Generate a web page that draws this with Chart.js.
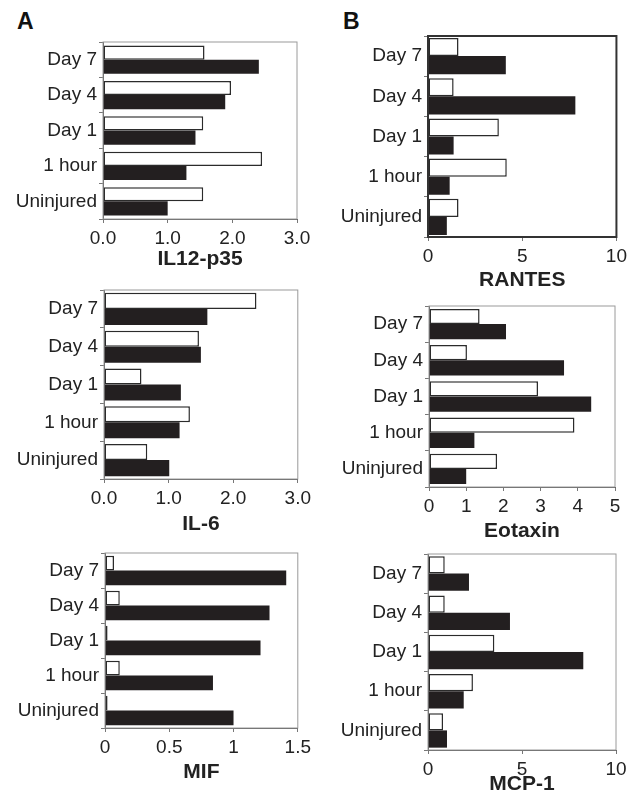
<!DOCTYPE html>
<html>
<head>
<meta charset="utf-8">
<script src="https://cdn.jsdelivr.net/npm/chart.js@4/dist/chart.umd.min.js"></script>
<style>
  html, body { margin: 0; padding: 0; background: #fff; overflow: hidden; }
  body { width: 631px; height: 804px; position: relative; font-family: "Liberation Sans", Arial, sans-serif; }
  .panel-letter { position: absolute; font-weight: bold; font-size: 23px; line-height: 1; color: #111; }
  canvas { position: absolute; }
</style>
</head>
<body>
<div class="panel-letter" style="left:17px; top:10px;">A</div>
<div class="panel-letter" style="left:343px; top:10px;">B</div>
<canvas id="il12"></canvas>
<canvas id="rantes"></canvas>
<canvas id="il6"></canvas>
<canvas id="eotaxin"></canvas>
<canvas id="mif"></canvas>
<canvas id="mcp1"></canvas>
<script>
// CATEGORIES (top to bottom) //
const categories = ['Day 7', 'Day 4', 'Day 1', '1 hour', 'Uninjured'];

// SERIES VALUES : open bars / filled bars //
const il12Open = [1.57, 1.98, 1.55, 2.46, 1.55];
const il12Filled = [2.41, 1.89, 1.43, 1.29, 1.0];

const rantesOpen = [1.62, 1.36, 3.76, 4.18, 1.62];
const rantesFilled = [4.13, 7.82, 1.36, 1.15, 1.0];

const il6Open = [2.36, 1.47, 0.58, 1.33, 0.67];
const il6Filled = [1.60, 1.50, 1.19, 1.17, 1.01];

const eotaxinOpen = [1.36, 1.02, 2.93, 3.91, 1.83];
const eotaxinFilled = [2.07, 3.63, 4.36, 1.22, 1.0];

const mifOpen = [0.07, 0.115, 0.02, 0.115, 0.02];
const mifFilled = [1.41, 1.28, 1.21, 0.84, 1.0];

const mcp1Open = [0.89, 0.89, 3.53, 2.39, 0.80];
const mcp1Filled = [2.18, 4.36, 8.26, 1.90, 1.01];

// TICK LABELS //
const ticksOneDecimal = [0, 1, 2, 3];
const ticksRantes = [0, 5, 10];
const ticksEotaxin = [0, 1, 2, 3, 4, 5];
const ticksMif = [0, 0.5, 1, 1.5];
const ticksMcp1 = [0, 5, 10];

const FONT = '"Liberation Sans", Arial, sans-serif';

// FRAME AROUND PLOT AREA //
const frameBox = {
  id: 'frameBox',
  afterDatasetsDraw(chart, args, opts) {
    const {ctx, chartArea: a} = chart;
    ctx.save();
    ctx.strokeStyle = opts.color;
    ctx.lineWidth = opts.width;
    ctx.strokeRect(a.left, a.top, a.right - a.left, a.bottom - a.top);
    ctx.restore();
  }
};

/**
 *
 * @param {{id:string, open:number[], filled:number[], title:string, max:number, tickValues:number[], decimals:number,
 *          box:{left:number, top:number, width:number}, plot:{l:number, t:number, r:number, b:number},
 *          titleGap:number, catPct:number, frameColor:string, frameWidth:number}} p
 */
function makePanel(p) {
  const canvas = document.getElementById(p.id);
  const axisHeight = 60;
  const height = p.plot.b + axisHeight - p.box.top;
  canvas.width = p.box.width;
  canvas.height = height;
  canvas.style.left = p.box.left + 'px';
  canvas.style.top = p.box.top + 'px';
  canvas.style.width = p.box.width + 'px';
  canvas.style.height = height + 'px';

  const titleSize = 21;
  const titlePadBottom = Math.max(0, axisHeight - p.titleGap - titleSize * 1.2 / 2);

  return new Chart(canvas, {
    type: 'bar',
    data: {
      labels: categories,
      datasets: [{
        data: p.open,
        backgroundColor: '#ffffff',
        borderColor: '#2b2b2b',
        borderWidth: 1.5,
        borderSkipped: false
      }, {
        data: p.filled,
        backgroundColor: '#231f20',
        borderWidth: 0
      }]
    },
    options: {
      indexAxis: 'y',
      responsive: false,
      devicePixelRatio: 1,
      animation: false,
      layout: {
        padding: {
          top: p.plot.t - p.box.top,
          right: p.box.left + p.box.width - p.plot.r,
          left: 0,
          bottom: 0
        }
      },
      datasets: {bar: {categoryPercentage: p.catPct, barPercentage: 1.0}},
      plugins: {
        legend: {display: false},
        tooltip: {enabled: false},
        frameBox: {color: p.frameColor, width: p.frameWidth}
      },
      scales: {
        x: {
          min: 0,
          max: p.max,
          afterFit: (scale) => { scale.height = axisHeight; },
          afterBuildTicks: (scale) => { scale.ticks = p.tickValues.map(v => ({value: v})); },
          grid: {drawOnChartArea: false, drawTicks: true, tickLength: 4, color: '#777'},
          border: {display: true, color: '#555', width: 1},
          ticks: {
            color: '#222',
            padding: 4,
            maxRotation: 0,
            font: {family: FONT, size: 19},
            callback: (v) => p.decimals ? Number(v).toFixed(p.decimals) : String(v)
          },
          title: {
            display: true,
            text: p.title,
            color: '#222',
            font: {family: FONT, size: titleSize, weight: 'bold'},
            padding: {top: 0, bottom: titlePadBottom}
          }
        },
        y: {
          afterFit: (scale) => { scale.width = p.plot.l - p.box.left; },
          grid: {drawOnChartArea: false, drawTicks: true, tickLength: 4, offset: true, color: '#777'},
          border: {display: true, color: '#555', width: 1},
          ticks: {color: '#222', padding: 2, font: {family: FONT, size: 19}}
        }
      }
    },
    plugins: [frameBox]
  });
}

makePanel({
  id: 'il12', open: il12Open, filled: il12Filled, title: 'IL12-p35', max: 3, tickValues: ticksOneDecimal, decimals: 1,
  box: {left: 0, top: 0, width: 315}, plot: {l: 103, t: 42, r: 297, b: 219},
  titleGap: 40, catPct: 0.8, frameColor: '#9a9a9a', frameWidth: 1
});

makePanel({
  id: 'rantes', open: rantesOpen, filled: rantesFilled, title: 'RANTES', max: 10, tickValues: ticksRantes, decimals: 0,
  box: {left: 316, top: 0, width: 315}, plot: {l: 428, t: 36, r: 619, b: 237},
  titleGap: 43, catPct: 0.9, frameColor: '#333333', frameWidth: 2
});

makePanel({
  id: 'il6', open: il6Open, filled: il6Filled, title: 'IL-6', max: 3, tickValues: ticksOneDecimal, decimals: 1,
  box: {left: 0, top: 270, width: 315}, plot: {l: 104, t: 290, r: 306, b: 479},
  titleGap: 45, catPct: 0.85, frameColor: '#9a9a9a', frameWidth: 1
});

makePanel({
  id: 'eotaxin', open: eotaxinOpen, filled: eotaxinFilled, title: 'Eotaxin', max: 5, tickValues: ticksEotaxin, decimals: 0,
  box: {left: 316, top: 270, width: 315}, plot: {l: 429, t: 306, r: 615, b: 487},
  titleGap: 44, catPct: 0.84, frameColor: '#9a9a9a', frameWidth: 1
});

makePanel({
  id: 'mif', open: mifOpen, filled: mifFilled, title: 'MIF', max: 1.5, tickValues: ticksMif, decimals: 0,
  box: {left: 0, top: 530, width: 315}, plot: {l: 105, t: 553, r: 301, b: 728},
  titleGap: 44, catPct: 0.84, frameColor: '#9a9a9a', frameWidth: 1
});

makePanel({
  id: 'mcp1', open: mcp1Open, filled: mcp1Filled, title: 'MCP-1', max: 10, tickValues: ticksMcp1, decimals: 0,
  box: {left: 316, top: 530, width: 315}, plot: {l: 428, t: 554, r: 616, b: 750},
  titleGap: 34, catPct: 0.88, frameColor: '#9a9a9a', frameWidth: 1
});
</script>
</body>
</html>
